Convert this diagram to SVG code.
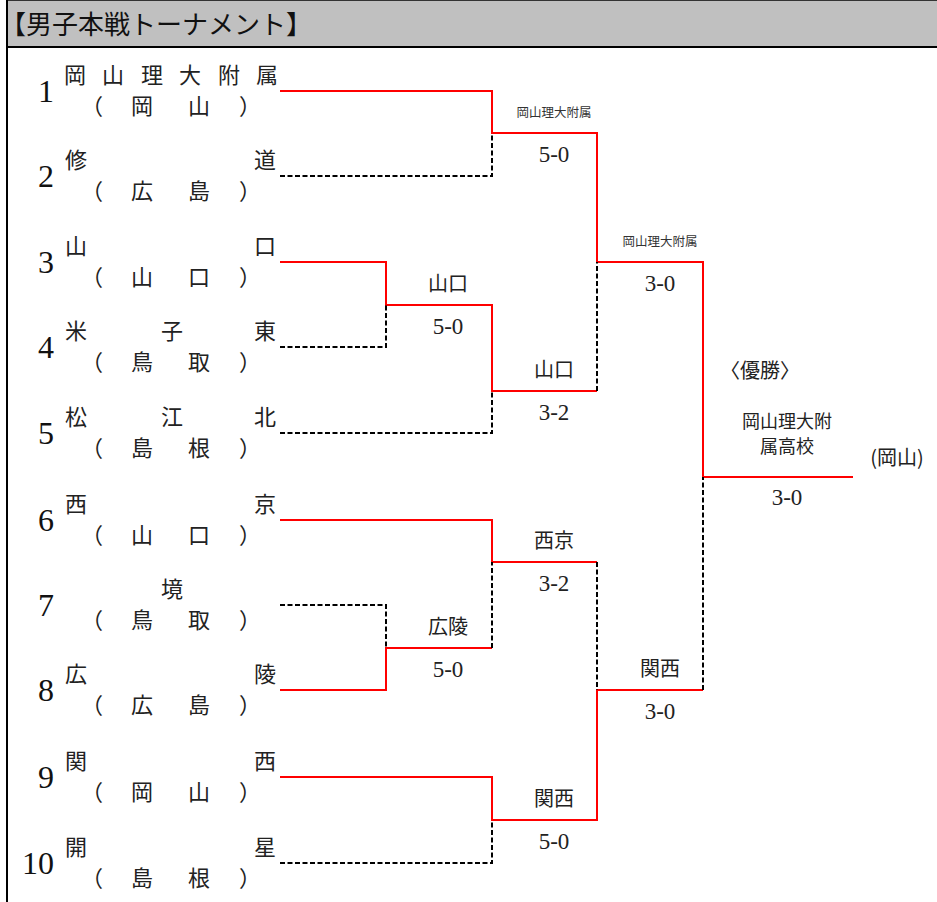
<svg xmlns="http://www.w3.org/2000/svg" width="937" height="902" viewBox="0 0 937 902">
<style>
.r{stroke:#ff0000;stroke-width:2;fill:none}
.d{stroke:#000;stroke-width:2;stroke-dasharray:5 2.5;fill:none}
.num{font-family:"Liberation Serif",serif;font-size:32px;text-anchor:end;fill:#111}
.nm{font-family:"Noto Sans CJK JP",sans-serif;font-size:22px;text-anchor:middle;fill:#222}
.w{font-family:"Noto Sans CJK JP",sans-serif;font-size:20px;text-anchor:middle;fill:#222}
.fw{font-family:"Noto Sans CJK JP",sans-serif;font-size:19px;text-anchor:middle;fill:#222}
.sm{font-family:"Noto Sans CJK JP",sans-serif;font-size:12.5px;text-anchor:middle;fill:#333}
.sc{font-family:"Liberation Serif",serif;font-size:23px;text-anchor:middle;fill:#222}
.hd{font-family:"Noto Sans CJK JP",sans-serif;font-size:26px;fill:#111}
</style>
<rect x="0" y="0" width="937" height="902" fill="#fff"/>
<g id="header">
<rect x="7" y="0" width="930" height="46" fill="#c0c0c0"/>
<line x1="7" y1="0.5" x2="937" y2="0.5" stroke="#333" stroke-width="1"/>
<line x1="7" y1="47" x2="937" y2="47" stroke="#000" stroke-width="2"/>
<line x1="7" y1="0" x2="7" y2="902" stroke="#000" stroke-width="2"/>
<text class="hd" x="0" y="34">【男子本戦トーナメント】</text>
</g>
<g id="connectors">
<polyline class="r" points="280,91 492,91 492,133 597,133 597,262 703,262 703,477 853,477"/>
<polyline class="d" points="280,176 492,176 492,133"/>
<polyline class="r" points="280,262 386,262 386,305 492,305 492,391 597,391"/>
<polyline class="d" points="280,347 386,347 386,305"/>
<polyline class="d" points="280,433 492,433 492,391"/>
<polyline class="d" points="597,391 597,262"/>
<polyline class="r" points="280,520 492,520 492,562 597,562"/>
<polyline class="d" points="280,605 386,605 386,648"/>
<polyline class="r" points="280,690 386,690 386,648 492,648"/>
<polyline class="d" points="492,648 492,562"/>
<polyline class="r" points="280,777 492,777 492,820 597,820 597,690 703,690"/>
<polyline class="d" points="280,863 492,863 492,820"/>
<polyline class="d" points="597,562 597,690"/>
<polyline class="d" points="703,690 703,477"/>
</g>
<g id="team1">
<text class="num" x="54" y="102">1</text>
<text class="nm" y="83"><tspan x="75">岡</tspan><tspan x="113">山</tspan><tspan x="152">理</tspan><tspan x="190">大</tspan><tspan x="229">附</tspan><tspan x="267">属</tspan></text>
<text class="nm" y="114"><tspan x="92">（</tspan><tspan x="142">岡</tspan><tspan x="199">山</tspan><tspan x="250">）</tspan></text>
</g>
<g id="team2">
<text class="num" x="54" y="187">2</text>
<text class="nm" y="168"><tspan x="76">修</tspan><tspan x="265">道</tspan></text>
<text class="nm" y="199"><tspan x="92">（</tspan><tspan x="142">広</tspan><tspan x="199">島</tspan><tspan x="250">）</tspan></text>
</g>
<g id="team3">
<text class="num" x="54" y="273">3</text>
<text class="nm" y="254"><tspan x="76">山</tspan><tspan x="265">口</tspan></text>
<text class="nm" y="285"><tspan x="92">（</tspan><tspan x="142">山</tspan><tspan x="199">口</tspan><tspan x="250">）</tspan></text>
</g>
<g id="team4">
<text class="num" x="54" y="358">4</text>
<text class="nm" y="339"><tspan x="76">米</tspan><tspan x="172">子</tspan><tspan x="265">東</tspan></text>
<text class="nm" y="370"><tspan x="92">（</tspan><tspan x="142">鳥</tspan><tspan x="199">取</tspan><tspan x="250">）</tspan></text>
</g>
<g id="team5">
<text class="num" x="54" y="444">5</text>
<text class="nm" y="425"><tspan x="76">松</tspan><tspan x="172">江</tspan><tspan x="265">北</tspan></text>
<text class="nm" y="456"><tspan x="92">（</tspan><tspan x="142">島</tspan><tspan x="199">根</tspan><tspan x="250">）</tspan></text>
</g>
<g id="team6">
<text class="num" x="54" y="531">6</text>
<text class="nm" y="512"><tspan x="76">西</tspan><tspan x="265">京</tspan></text>
<text class="nm" y="543"><tspan x="92">（</tspan><tspan x="142">山</tspan><tspan x="199">口</tspan><tspan x="250">）</tspan></text>
</g>
<g id="team7">
<text class="num" x="54" y="616">7</text>
<text class="nm" y="597"><tspan x="172">境</tspan></text>
<text class="nm" y="628"><tspan x="92">（</tspan><tspan x="142">鳥</tspan><tspan x="199">取</tspan><tspan x="250">）</tspan></text>
</g>
<g id="team8">
<text class="num" x="54" y="701">8</text>
<text class="nm" y="682"><tspan x="76">広</tspan><tspan x="265">陵</tspan></text>
<text class="nm" y="713"><tspan x="92">（</tspan><tspan x="142">広</tspan><tspan x="199">島</tspan><tspan x="250">）</tspan></text>
</g>
<g id="team9">
<text class="num" x="54" y="788">9</text>
<text class="nm" y="769"><tspan x="76">関</tspan><tspan x="265">西</tspan></text>
<text class="nm" y="800"><tspan x="92">（</tspan><tspan x="142">岡</tspan><tspan x="199">山</tspan><tspan x="250">）</tspan></text>
</g>
<g id="team10">
<text class="num" x="54" y="874">10</text>
<text class="nm" y="855"><tspan x="76">開</tspan><tspan x="265">星</tspan></text>
<text class="nm" y="886"><tspan x="92">（</tspan><tspan x="142">島</tspan><tspan x="199">根</tspan><tspan x="250">）</tspan></text>
</g>
<g id="r1-m1">
<text class="w" x="448" y="291">山口</text>
<text class="sc" x="448" y="334">5-0</text>
</g>
<g id="r1-m2">
<text class="w" x="448" y="634">広陵</text>
<text class="sc" x="448" y="677">5-0</text>
</g>
<g id="r2-m1">
<text class="sm" x="554" y="117">岡山理大附属</text>
<text class="sc" x="554" y="162">5-0</text>
</g>
<g id="r2-m2">
<text class="w" x="554" y="377">山口</text>
<text class="sc" x="554" y="420">3-2</text>
</g>
<g id="r2-m3">
<text class="w" x="554" y="548">西京</text>
<text class="sc" x="554" y="591">3-2</text>
</g>
<g id="r2-m4">
<text class="w" x="554" y="806">関西</text>
<text class="sc" x="554" y="849">5-0</text>
</g>
<g id="r3-m1">
<text class="sm" x="660" y="246">岡山理大附属</text>
<text class="sc" x="660" y="291">3-0</text>
</g>
<g id="r3-m2">
<text class="w" x="660" y="676">関西</text>
<text class="sc" x="660" y="719">3-0</text>
</g>
<g id="final">
<text class="w" x="760" y="378">〈優勝〉</text>
<text class="fw" x="787" y="428" style="font-size:18px">岡山理大附<tspan x="787" dy="25">属高校</tspan></text>
<text class="w" x="897" y="465">(岡山)</text>
<text class="sc" x="787" y="505">3-0</text>
</g>
</svg>
